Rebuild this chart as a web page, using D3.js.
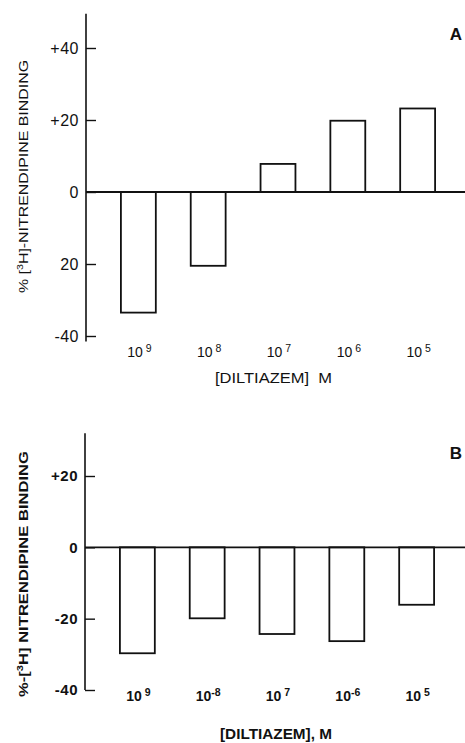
<!DOCTYPE html>
<html>
<head>
<meta charset="utf-8">
<script src="https://cdn.jsdelivr.net/npm/d3@7"></script>
<style>
  body { margin: 0; background: #fff; }
  svg { display: block; }
  text { font-family: "Liberation Sans", Arial, sans-serif; fill: #111; }
</style>
</head>
<body>
<div id="chart"></div>
<script>
// diltiazem concentrations (exponents, minus sign lost in print)
const doses = ["10^9", "10^8", "10^7", "10^6", "10^5"];
const expA = [" 9", " 8", " 7", " 6", " 5"];
const expB = [" 9", "-8", " 7", "-6", " 5"];

// % change of [3H]-nitrendipine binding
const valuesA = [-33.5, -20.5, 7.8, 19.8, 23.2];
const valuesB = [-29.7, -19.9, -24.3, -26.3, -16.1];

const ticksA = [40, 20, 0, -20, -40];
const tickLabelsA = ["+40", "+20", "0", "20", "-40"];
const ticksB = [20, 0, -20, -40];
const tickLabelsB = ["+20", "0", "-20", "-40"];

const W = 465, H = 743;

const svg = d3.select("#chart").append("svg")
  .attr("width", W)
  .attr("height", H);

function drawPanel(opts) {
  const g = svg.append("g");
  const x = d3.scaleBand()
    .domain(doses)
    .range(opts.xRange)
    .paddingInner(0.5)
    .paddingOuter(0.5);
  const y = d3.scaleLinear()
    .domain(opts.yDomain)
    .range(opts.yRange);
  const x0 = opts.xRange[0];

  // y axis line
  g.append("line")
    .attr("x1", x0).attr("x2", x0)
    .attr("y1", y(opts.axisTop)).attr("y2", y(opts.axisBottom))
    .attr("stroke", "#111").attr("stroke-width", 1.6);

  // ticks pointing in, labels on the left
  const axis = d3.axisLeft(y)
    .tickValues(opts.ticks)
    .tickFormat((d, i) => opts.tickLabels[i])
    .tickSizeInner(-10)
    .tickSizeOuter(0)
    .tickPadding(7);
  const ga = g.append("g")
    .attr("transform", `translate(${x0},0)`)
    .call(axis);
  ga.select(".domain").remove();
  ga.selectAll(".tick line").attr("stroke", "#111").attr("stroke-width", 1.4);
  ga.selectAll(".tick text")
    .attr("font-size", opts.tickSize)
    .attr("font-weight", opts.weight)
    .attr("fill", "#111")
    .attr("letter-spacing", 0.5)
    .style("font-family", "'Liberation Sans', Arial, sans-serif");

  // bars
  g.selectAll("rect.bar")
    .data(opts.values)
    .join("rect")
    .attr("class", "bar")
    .attr("x", (d, i) => x(doses[i]))
    .attr("width", x.bandwidth())
    .attr("y", d => y(Math.max(0, d)))
    .attr("height", d => Math.abs(y(d) - y(0)))
    .attr("fill", "#fff")
    .attr("stroke", "#111")
    .attr("stroke-width", 1.8);

  // zero line
  g.append("line")
    .attr("x1", x0).attr("x2", W)
    .attr("y1", y(0)).attr("y2", y(0))
    .attr("stroke", "#111").attr("stroke-width", 1.8);

  // dose labels
  const lab = g.selectAll("text.dose")
    .data(doses)
    .join("text")
    .attr("class", "dose")
    .attr("x", d => x(d) + x.bandwidth() / 2 + 1)
    .attr("y", opts.doseY)
    .attr("text-anchor", "middle")
    .attr("font-size", 14)
    .attr("font-weight", opts.weight);
  lab.append("tspan").text("10");
  lab.append("tspan")
    .attr("dy", -5)
    .attr("font-size", 10.5)
    .attr("xml:space", "preserve")
    .text((d, i) => opts.exps[i]);

  // x title
  g.append("text")
    .attr("x", opts.titleX)
    .attr("y", opts.titleY)
    .attr("text-anchor", "middle")
    .attr("font-size", 14)
    .attr("font-weight", opts.weight)
    .attr("xml:space", "preserve")
    .attr("textLength", opts.titleLen)
    .attr("lengthAdjust", "spacingAndGlyphs")
    .text(opts.xTitle);

  // y title
  const yt = g.append("text")
    .attr("transform", `translate(${opts.yTitleX},${opts.yTitleY}) rotate(-90)`)
    .attr("text-anchor", "middle")
    .attr("font-size", 13.5)
    .attr("font-weight", opts.weight)
    .attr("textLength", opts.yTitleLen)
    .attr("lengthAdjust", "spacingAndGlyphs");
  opts.yTitle.forEach(p => {
    const t = yt.append("tspan").text(p.t);
    if (p.sup) t.attr("dy", -5).attr("font-size", 9);
    if (p.after) t.attr("dy", 5);
  });

  // panel letter
  g.append("text")
    .attr("x", 462)
    .attr("y", opts.letterY)
    .attr("text-anchor", "end")
    .attr("font-size", 17)
    .attr("font-weight", "bold")
    .text(opts.letter);
}

drawPanel({
  xRange: [86, 470],
  yDomain: [-40, 40],
  yRange: [336, 48],
  axisTop: 49.5,
  axisBottom: -41.5,
  ticks: ticksA,
  tickLabels: tickLabelsA,
  tickSize: 16,
  values: valuesA,
  exps: expA,
  doseY: 357,
  xTitle: "[DILTIAZEM]  M",
  titleX: 273.5,
  titleY: 383,
  titleLen: 117,
  yTitle: [{t: "% ["}, {t: "3", sup: true}, {t: "H]-NITRENDIPINE BINDING", after: true}],
  yTitleX: 28,
  yTitleY: 176.5,
  yTitleLen: 233,
  letter: "A",
  letterY: 40,
  weight: "normal"
});

drawPanel({
  xRange: [85, 469],
  yDomain: [-40, 20],
  yRange: [690, 476],
  axisTop: 32,
  axisBottom: -40,
  ticks: ticksB,
  tickLabels: tickLabelsB,
  tickSize: 15,
  values: valuesB,
  exps: expB,
  doseY: 701,
  xTitle: "[DILTIAZEM], M",
  titleX: 276,
  titleY: 739,
  titleLen: 112,
  yTitle: [{t: "%-["}, {t: "3", sup: true}, {t: "H] NITRENDIPINE BINDING", after: true}],
  yTitleX: 28,
  yTitleY: 574,
  yTitleLen: 246,
  letter: "B",
  letterY: 459,
  weight: "bold"
});
</script>
</body>
</html>
